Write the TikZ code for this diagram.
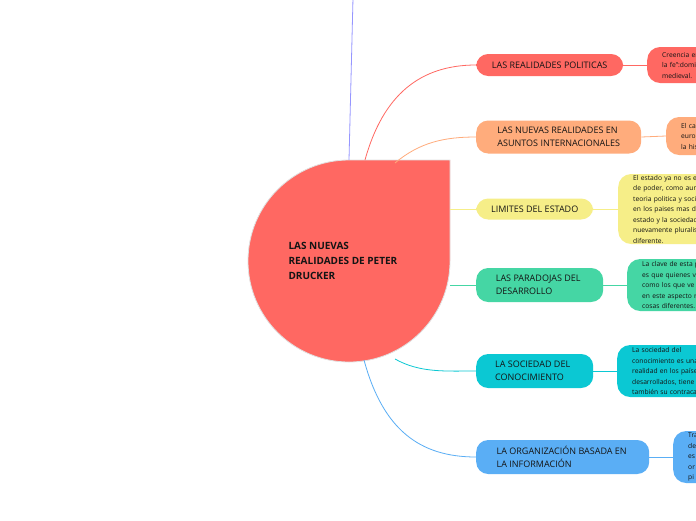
\documentclass[tikz,border=0pt]{standalone}
\usepackage{fontspec}
\setmainfont{Open Sans}
\definecolor{cred}{RGB}{255,104,98}
\definecolor{corange}{RGB}{255,172,124}
\definecolor{cyellow}{RGB}{246,238,136}
\definecolor{cgreen}{RGB}{69,214,164}
\definecolor{ccyan}{RGB}{11,200,211}
\definecolor{cblue}{RGB}{90,174,245}
\definecolor{clav}{RGB}{150,150,255}
\definecolor{ctext}{RGB}{20,20,20}
\begin{document}
\begin{tikzpicture}[x=1pt,y=-1pt,
  branch/.style={rounded corners=12pt, inner xsep=0pt, inner ysep=0pt, anchor=west, align=left,
    font=\fontsize{9}{12.5}\selectfont, text=ctext},
  leaf/.style={rounded corners=13pt, inner xsep=15pt, inner ysep=0pt, anchor=west, align=left,
    minimum width=150pt, text width=130pt, font=\fontsize{6.7}{10.5}\selectfont, text=ctext},
  conn/.style={line width=0.8pt}]
\useasboundingbox (0,0) rectangle (696,520);
\fill[white] (0,0) rectangle (696,520);
\clip (0,0) rectangle (696,520);

% central teardrop
\fill[cred, draw=black!12, line width=0.8pt] (349,160) -- (450,160) -- (450,261)
  arc[start angle=0, end angle=270, radius=101] -- cycle;
\node[anchor=west, align=left, font=\bfseries\fontsize{10}{15}\selectfont, text=ctext] (center) at (285,261)
  {LAS NUEVAS\\REALIDADES DE PETER\\DRUCKER};

\coordinate (top) at (353,-2);
\coordinate (c0) at (349,160);
\coordinate (c1) at (365,160);
\coordinate (c2) at (395,163);
\coordinate (c3) at (450,209);
\coordinate (c4) at (450,285);
\coordinate (c5) at (395,359);
\coordinate (c6) at (364,360);

% branches
\node[branch, fill=cred, minimum width=147pt, minimum height=22pt, align=center] (b1) at (476,65) {LAS REALIDADES POLITICAS};
\node[branch, fill=corange, minimum width=165pt, minimum height=33pt] (b2) at (476,137) {LAS NUEVAS REALIDADES EN\\ASUNTOS INTERNACIONALES};
\node[branch, fill=cyellow, minimum width=117pt, minimum height=21pt, align=center] (b3) at (476,209) {LIMITES DEL ESTADO};
\node[branch, fill=cgreen, minimum width=127pt, minimum height=34pt] (b4) at (476,285) {LAS PARADOJAS DEL\\DESARROLLO\phantom{XXXXXX}};
\node[branch, fill=ccyan, minimum width=117pt, minimum height=34pt] (b5) at (476,371) {LA SOCIEDAD DEL\\CONOCIMIENTO\phantom{XX}};
\node[branch, fill=cblue, minimum width=173pt, minimum height=34pt] (b6) at (476,457) {LA ORGANIZACIÓN BASADA EN\\LA INFORMACIÓN\phantom{XXXXXXXXXXX}};

% leaves
\node[leaf, fill=cred, minimum height=36pt] (l1) at (647,65) {Creencia en la\\la fe":dominio de\\medieval.};
\node[leaf, fill=corange, minimum height=38pt] (l2) at (666,136) {El cambio\\europeo\\la historia};
\node[leaf, fill=cyellow, minimum height=70pt] (l3) at (618,209) {El estado ya no es el\\de poder, como aun\\teoria politica y social\\en los paises mas des\\estado y la sociedad\\nuevamente pluralista\\diferente.};
\node[leaf, fill=cgreen, minimum height=52pt] (l4) at (627,285) {La clave de esta p\\es que quienes v\\como los que ve\\en este aspecto r\\cosas diferentes.};
\node[leaf, fill=ccyan, minimum height=52pt] (l5) at (617,371) {La sociedad del\\conocimiento es una\\realidad en los países\\desarrollados, tiene\\también su contracara};
\node[leaf, fill=cblue, minimum height=52pt] (l6) at (673,457) {Tra\\de\\es\\or\\pi};

% connectors centre -> branches
\draw[conn, clav] (c0) -- (top);
\draw[conn, cred] (c1) .. controls (383,95) and (420,65) .. (b1.west);
\draw[conn, corange] (c2) .. controls (420,142) and (445,137) .. (b2.west);
\draw[conn, cyellow] (c3) -- (b3.west);
\draw[conn, cgreen] (c4) -- (b4.west);
\draw[conn, ccyan] (c5) .. controls (420,373) and (445,371) .. (b5.west);
\draw[conn, cblue] (c6) .. controls (383,430) and (420,457) .. (b6.west);

% connectors branches -> leaves
\draw[conn, cred] (b1.east) -- (l1.west);
\draw[conn, corange] (b2.east) -- (l2.west);
\draw[conn, cyellow] (b3.east) -- (l3.west);
\draw[conn, cgreen] (b4.east) -- (l4.west);
\draw[conn, ccyan] (b5.east) -- (l5.west);
\draw[conn, cblue] (b6.east) -- (l6.west);
\end{tikzpicture}
\end{document}
